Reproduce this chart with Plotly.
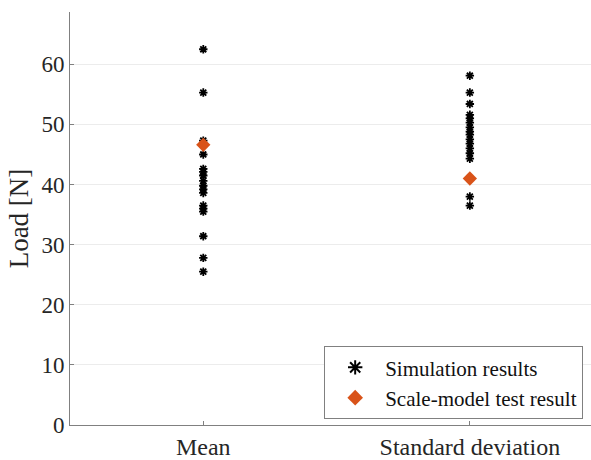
import plotly.graph_objects as go

# Load statistics from the simulation runs and the scale-model test
categories = ["Mean", "Standard deviation"]

sim_mean = [62.5, 55.3, 47.3, 45.0, 42.6, 42.1, 41.5, 40.6, 39.8, 39.2, 38.6,
            36.5, 36.0, 35.5, 31.4, 27.8, 25.5]
sim_std = [58.1, 55.3, 53.4, 51.6, 51.0, 50.3, 49.5, 48.8, 48.3, 47.5, 46.8,
           46.0, 45.2, 44.3, 38.0, 36.5]

test_values = [46.6, 41.0]

sim_x = [1] * len(sim_mean) + [2] * len(sim_std)
sim_y = sim_mean + sim_std

serif = "Liberation Serif, Times New Roman, serif"

fig = go.Figure()
fig.add_trace(go.Scatter(
    x=sim_x, y=sim_y, mode="markers", name="Simulation results",
    marker=dict(symbol="asterisk-open", size=7, color="black",
                line=dict(color="black", width=1.8)),
))
fig.add_trace(go.Scatter(
    x=[1, 2], y=test_values, mode="markers", name="Scale-model test result",
    marker=dict(symbol="diamond", size=11, color="#D95319",
                line=dict(width=0)),
))

fig.update_layout(
    width=591, height=460,
    margin=dict(l=70, r=0, t=12, b=33),
    paper_bgcolor="white", plot_bgcolor="white",
    font=dict(family=serif, color="#262626", size=21),
    showlegend=True,
    legend=dict(
        x=0.985, y=0.014, xanchor="right", yanchor="bottom",
        bgcolor="white", bordercolor="#808080", borderwidth=1,
        font=dict(family=serif, size=21, color="#111111"),
        itemsizing="constant", itemwidth=50, tracegroupgap=0,
    ),
    xaxis=dict(
        range=[0.5, 2.4545], tickvals=[1, 2], ticktext=categories,
        showgrid=False, zeroline=False,
        showline=True, linecolor="#808080", linewidth=1,
        ticks="inside", ticklen=4, tickcolor="#808080",
        tickfont=dict(family=serif, size=24, color="#262626"),
    ),
    yaxis=dict(
        range=[0, 68.7], tickvals=[0, 10, 20, 30, 40, 50, 60],
        showgrid=True, gridcolor="#ececec", gridwidth=1, zeroline=False,
        showline=True, linecolor="#808080", linewidth=1,
        ticks="inside", ticklen=4, tickcolor="#808080",
        tickfont=dict(family=serif, size=23, color="#262626"),
        title=dict(text="Load [N]", font=dict(family=serif, size=27, color="#262626"),
                   standoff=4),
    ),
)

fig.write_html("out.html")
